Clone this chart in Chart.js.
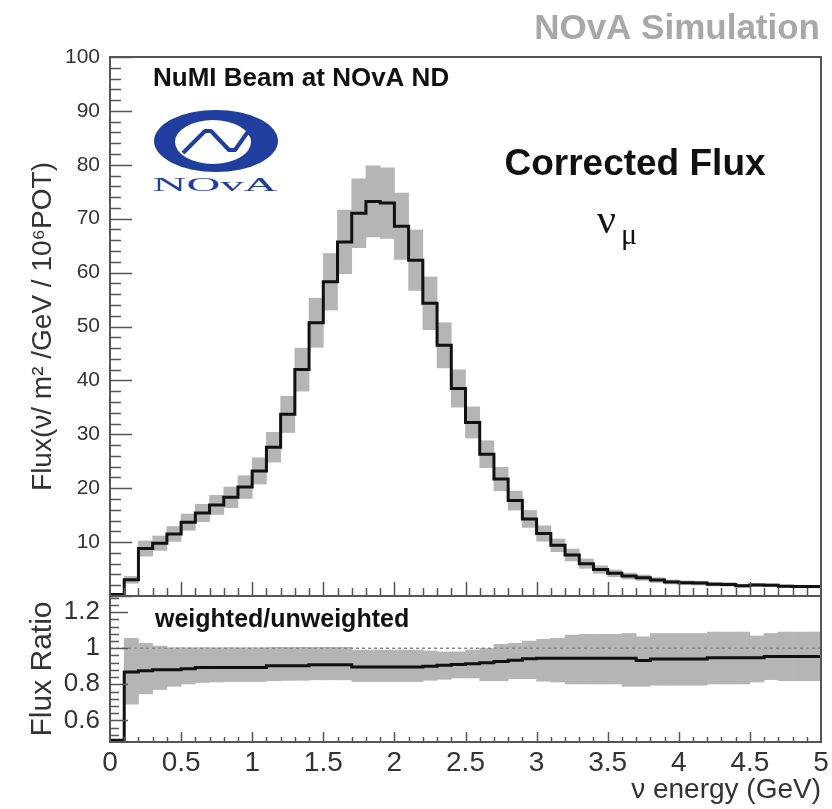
<!DOCTYPE html>
<html>
<head>
<meta charset="utf-8">
<script src="https://cdn.jsdelivr.net/npm/chart.js@4.4.1/dist/chart.umd.min.js"></script>
<style>
  body { margin: 0; background: #fff; }
  #wrap { position: relative; width: 832px; height: 809px; }
  canvas { position: absolute; left: 0; }
  #top { top: 0; }
  #bottom { top: 590px; }
</style>
</head>
<body>
<div id="wrap">
  <canvas id="top" width="832" height="600" style="width:832px;height:600px"></canvas>
  <canvas id="bottom" width="832" height="219" style="width:832px;height:219px"></canvas>
</div>
<script>
// bin edges (GeV), 0.1 GeV wide bins
const binEdges = [0.0, 0.1, 0.2, 0.3, 0.4, 0.5, 0.6, 0.7, 0.8, 0.9,
                  1.0, 1.1, 1.2, 1.3, 1.4, 1.5, 1.6, 1.7, 1.8, 1.9,
                  2.0, 2.1, 2.2, 2.3, 2.4, 2.5, 2.6, 2.7, 2.8, 2.9,
                  3.0, 3.1, 3.2, 3.3, 3.4, 3.5, 3.6, 3.7, 3.8, 3.9,
                  4.0, 4.1, 4.2, 4.3, 4.4, 4.5, 4.6, 4.7, 4.8, 4.9];
const binWidth = 0.1;
const xMax = 5;

// tick labels
const energyTicks = [0, 0.5, 1, 1.5, 2, 2.5, 3, 3.5, 4, 4.5, 5];
const fluxTicks = [10, 20, 30, 40, 50, 60, 70, 80, 90, 100];
const ratioTicks = [0.6, 0.8, 1, 1.2];

// corrected flux per bin
const flux = [0.3, 3.0, 8.8, 9.8, 11.5, 13.7, 15.4, 16.9, 18.3, 20.2,
              23.2, 27.6, 33.7, 42.0, 50.7, 58.3, 65.7, 71.0, 73.2, 72.9,
              68.6, 62.3, 54.3, 46.5, 38.5, 32.2, 26.3, 21.7, 17.7, 14.3,
              11.6, 9.4, 7.6, 6.0, 4.9, 4.2, 3.7, 3.4, 2.95, 2.6,
              2.45, 2.4, 2.2, 2.15, 1.9, 2.05, 2.0, 1.8, 1.75, 1.75];

// relative uncertainty of each flux bin (grey band)
const fluxErr = [0, 0.21, 0.16, 0.136, 0.12, 0.11, 0.105, 0.105, 0.105, 0.105,
                 0.105, 0.10, 0.10, 0.095, 0.09, 0.09, 0.09, 0.09, 0.09, 0.09,
                 0.09, 0.09, 0.09, 0.09, 0.09, 0.09, 0.095, 0.10, 0.10, 0.11,
                 0.123, 0.125, 0.145, 0.145, 0.145, 0.145, 0.15, 0.148, 0.15, 0.15,
                 0.15, 0.15, 0.152, 0.152, 0.152, 0.135, 0.135, 0.14, 0.14, 0.14];

// weighted / unweighted ratio
const ratio = [0.49, 0.868, 0.875, 0.881, 0.881, 0.886, 0.894, 0.894, 0.894, 0.894,
               0.894, 0.903, 0.903, 0.903, 0.908, 0.908, 0.908, 0.896, 0.896, 0.896,
               0.896, 0.896, 0.900, 0.906, 0.910, 0.914, 0.920, 0.927, 0.933, 0.942,
               0.945, 0.945, 0.945, 0.945, 0.945, 0.945, 0.945, 0.932, 0.941, 0.941,
               0.941, 0.941, 0.948, 0.948, 0.948, 0.948, 0.954, 0.954, 0.954, 0.954];
const ratioLo = [null, 0.69, 0.747, 0.771, 0.789, 0.802, 0.81, 0.813, 0.815, 0.815,
                 0.815, 0.82, 0.822, 0.822, 0.825, 0.825, 0.825, 0.815, 0.815, 0.815,
                 0.815, 0.815, 0.822, 0.828, 0.835, 0.835, 0.82, 0.82, 0.831, 0.831,
                 0.817, 0.813, 0.802, 0.802, 0.802, 0.802, 0.789, 0.789, 0.795, 0.795,
                 0.795, 0.795, 0.802, 0.802, 0.802, 0.813, 0.826, 0.82, 0.82, 0.82];
const ratioHi = [null, 1.055, 1.027, 1.012, 1.003, 1.003, 1.003, 1.003, 1.003, 1.003,
                 1.003, 1.005, 1.005, 1.005, 1.005, 1.005, 1.005, 0.99, 0.99, 0.99,
                 0.99, 0.99, 0.985, 0.98, 0.98, 0.99, 1.0, 1.022, 1.027, 1.04,
                 1.05, 1.055, 1.073, 1.077, 1.077, 1.077, 1.082, 1.064, 1.082, 1.082,
                 1.082, 1.082, 1.09, 1.09, 1.09, 1.068, 1.082, 1.09, 1.09, 1.09];

const FONT = "'Liberation Sans', Arial, Helvetica, sans-serif";
const SERIF = "'Liberation Serif', 'Times New Roman', serif";
const BAND = '#b5b5b5';

// histogram as stepped line: one point per left edge, plus the last edge
function histPoints(vals) {
    return binEdges.map((x, i) => ({ x: x, y: vals[i] })).concat([{ x: xMax, y: vals[vals.length - 1] }]);
}

function fixedTicks(list) {
    return (s) => { s.ticks = list.map(v => ({ value: v })); };
}

// ROOT-like frame with inside ticks
const rootFrame = {
    id: 'rootFrame',
    afterDraw(chart, args, o) {
        const { ctx, chartArea: a } = chart;
        const xs = chart.scales.x, ys = chart.scales.y;
        ctx.save();
        ctx.strokeStyle = '#555';
        ctx.lineWidth = 1.5;
        for (let i = 0; ; i++) {
            const v = Math.round((o.yFrom + i * o.yMinor) * 1000) / 1000;
            if (v > ys.max + 1e-9) break;
            const major = Math.abs(v / o.yMajor - Math.round(v / o.yMajor)) < 1e-6;
            const y = Math.round(ys.getPixelForValue(v)) + 0.5;
            ctx.beginPath();
            ctx.moveTo(a.left, y);
            ctx.lineTo(a.left + (major ? o.yMajorLen : o.yMinorLen), y);
            ctx.stroke();
        }
        for (let i = 1; ; i++) {
            const v = Math.round(i * 0.1 * 1000) / 1000;
            if (v >= xMax - 1e-9) break;
            const major = Math.abs(v / 0.5 - Math.round(v / 0.5)) < 1e-6;
            const x = Math.round(xs.getPixelForValue(v)) + 0.5;
            ctx.beginPath();
            ctx.moveTo(x, a.bottom);
            ctx.lineTo(x, a.bottom - (major ? o.xMajorLen : o.xMinorLen));
            ctx.stroke();
        }
        ctx.lineWidth = 2;
        ctx.strokeRect(a.left, a.top, a.right - a.left, a.bottom - a.top);
        ctx.restore();
    }
};

// free text labels on the canvas
const notes = {
    id: 'notes',
    afterDraw(chart, args, o) {
        const ctx = chart.ctx;
        ctx.save();
        (o.items || []).forEach(t => {
            ctx.font = t.font;
            ctx.fillStyle = t.color || '#111';
            ctx.textAlign = t.align || 'left';
            ctx.textBaseline = 'alphabetic';
            ctx.fillText(t.text, t.x, t.y);
        });
        ctx.restore();
    }
};

// NOvA logo
const novaLogo = {
    id: 'novaLogo',
    afterDraw(chart) {
        const ctx = chart.ctx;
        const blue = '#1f3e9e';
        ctx.save();
        ctx.fillStyle = blue;
        ctx.beginPath();
        ctx.ellipse(216, 141, 62, 31, 0, 0, Math.PI * 2);
        ctx.fill();
        ctx.fillStyle = '#fff';
        ctx.beginPath();
        ctx.ellipse(213, 142, 38, 22, 0, 0, Math.PI * 2);
        ctx.fill();
        ctx.strokeStyle = blue;
        ctx.lineWidth = 4;
        ctx.lineJoin = 'round';
        ctx.beginPath();
        ctx.moveTo(183, 153);
        ctx.lineTo(205, 131);
        ctx.lineTo(211, 131);
        ctx.lineTo(229, 150);
        ctx.lineTo(235, 150);
        ctx.lineTo(247, 133);
        ctx.lineTo(253, 131);
        ctx.stroke();
        ctx.fillStyle = blue;
        ctx.font = '18px ' + SERIF;
        ctx.textAlign = 'center';
        ctx.translate(215, 191);
        ctx.scale(2.6, 1);
        ctx.fillText('NOvA', 0, 0);
        ctx.restore();
    }
};

const baseX = {
    type: 'linear',
    min: 0,
    max: xMax,
    offset: false,
    grid: { display: false, drawTicks: false },
    border: { display: false }
};

// upper pad: flux
new Chart(document.getElementById('top'), {
    type: 'line',
    data: {
        datasets: [
            {
                data: histPoints(flux),
                stepped: true,
                borderColor: '#111',
                borderWidth: 3,
                borderJoinStyle: 'miter',
                pointRadius: 0,
                fill: false,
                clip: 3
            },
            {
                type: 'bar',
                data: binEdges.map((x, i) => ({ x: x + binWidth / 2, y: [flux[i] * (1 - fluxErr[i]), flux[i] * (1 + fluxErr[i])] })),
                backgroundColor: BAND,
                borderWidth: 0,
                barPercentage: 1,
                categoryPercentage: 1,
                grouped: false
            }
        ]
    },
    options: {
        responsive: false,
        animation: false,
        layout: { padding: { top: 57, right: 11, bottom: 4, left: 0 } },
        scales: {
            x: Object.assign({}, baseX, { display: false }),
            y: {
                min: 0,
                max: 100,
                grid: { display: false, drawTicks: false },
                border: { display: false },
                afterBuildTicks: fixedTicks(fluxTicks),
                afterFit: (s) => { s.width = 110; s.paddingTop = 0; s.paddingBottom = 0; },
                ticks: {
                    padding: 10,
                    color: '#333',
                    font: { family: FONT, size: 21 },
                    callback: (v) => String(v)
                },
                title: {
                    display: true,
                    text: 'Flux(ν/ m² /GeV / 10⁶POT)',
                    color: '#333',
                    font: { family: FONT, size: 28 },
                    padding: { top: 26, bottom: 0 }
                }
            }
        },
        plugins: {
            legend: { display: false },
            tooltip: { enabled: false },
            rootFrame: { yFrom: 0, yMinor: 2, yMajor: 10, yMajorLen: 22, yMinorLen: 11, xMajorLen: 14, xMinorLen: 8 },
            notes: {
                items: [
                    { text: 'NOvA Simulation', x: 820, y: 39, font: 'bold 35px ' + FONT, color: '#a8a8a8', align: 'right' },
                    { text: 'NuMI Beam at NOvA ND', x: 153, y: 86, font: 'bold 26px ' + FONT },
                    { text: 'Corrected Flux', x: 635, y: 175, font: 'bold 37px ' + FONT, align: 'center' },
                    { text: 'ν', x: 597, y: 233, font: '42px ' + SERIF },
                    { text: 'μ', x: 621, y: 244, font: '30px ' + SERIF }
                ]
            }
        }
    },
    plugins: [rootFrame, notes, novaLogo]
});

// lower pad: ratio
new Chart(document.getElementById('bottom'), {
    type: 'line',
    data: {
        datasets: [
            {
                data: histPoints(ratio),
                stepped: true,
                borderColor: '#111',
                borderWidth: 3,
                borderJoinStyle: 'miter',
                pointRadius: 0,
                fill: false,
                clip: 3
            },
            {
                data: [{ x: 0, y: 1 }, { x: xMax, y: 1 }],
                borderColor: '#8a8a8a',
                borderWidth: 1.5,
                borderDash: [3, 3],
                pointRadius: 0,
                fill: false
            },
            {
                type: 'bar',
                data: binEdges.map((x, i) => ({ x: x + binWidth / 2, y: ratioLo[i] === null ? null : [ratioLo[i], ratioHi[i]] })),
                backgroundColor: BAND,
                borderWidth: 0,
                barPercentage: 1,
                categoryPercentage: 1,
                grouped: false
            }
        ]
    },
    options: {
        responsive: false,
        animation: false,
        layout: { padding: { top: 6, right: 11, bottom: 0, left: 0 } },
        scales: {
            x: Object.assign({}, baseX, {
                afterBuildTicks: fixedTicks(energyTicks),
                afterFit: (s) => { s.height = 67; s.paddingLeft = 0; s.paddingRight = 0; },
                ticks: {
                    padding: 4,
                    autoSkip: false,
                    maxRotation: 0,
                    color: '#333',
                    font: { family: FONT, size: 28 },
                    callback: (v) => String(v)
                },
                title: {
                    display: true,
                    text: 'ν energy (GeV)',
                    align: 'end',
                    color: '#333',
                    font: { family: FONT, size: 28 },
                    padding: { top: 0, bottom: 2 }
                }
            }),
            y: {
                min: 0.48,
                max: 1.29,
                grid: { display: false, drawTicks: false },
                border: { display: false },
                afterBuildTicks: fixedTicks(ratioTicks),
                afterFit: (s) => { s.width = 110; s.paddingTop = 0; s.paddingBottom = 0; },
                ticks: {
                    padding: 10,
                    color: '#333',
                    font: { family: FONT, size: 26 },
                    callback: (v) => String(v)
                },
                title: {
                    display: true,
                    text: 'Flux Ratio',
                    color: '#333',
                    font: { family: FONT, size: 30 },
                    padding: { top: 25, bottom: 0 }
                }
            }
        },
        plugins: {
            legend: { display: false },
            tooltip: { enabled: false },
            rootFrame: { yFrom: 0.52, yMinor: 0.04, yMajor: 0.2, yMajorLen: 18, yMinorLen: 9, xMajorLen: 10, xMinorLen: 5 },
            notes: {
                items: [
                    { text: 'weighted/unweighted', x: 155, y: 37, font: 'bold 25px ' + FONT }
                ]
            }
        }
    },
    plugins: [rootFrame, notes]
});
</script>
</body>
</html>
